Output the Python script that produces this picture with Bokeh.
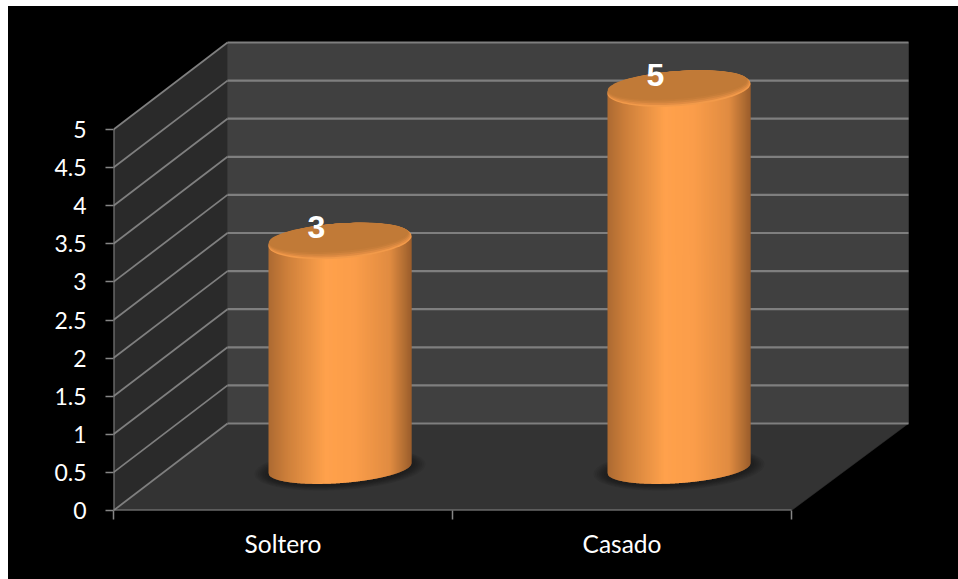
from bokeh.embed import file_html
from bokeh.resources import INLINE
from bokeh.plotting import figure
from bokeh.models import FixedTicker, Range1d
from bokeh.core.properties import value
import numpy as np

# data
categories = ["Soltero", "Casado"]
counts = [3, 5]
y_ticks = [0, 0.5, 1, 1.5, 2, 2.5, 3, 3.5, 4, 4.5, 5]
y_tick_labels = ["0", "0.5", "1", "1.5", "2", "2.5", "3", "3.5", "4", "4.5", "5"]
y_max = 5
n_cat = len(categories)

# 3D projection (plot units per unit of depth)
PX_X, PX_Y = 339.0, 76.2          # pixels per x / y unit
DX, DY = 114 / PX_X, 87 / PX_Y
SPREAD = 3 / 678                  # the back wall is a little wider than the front edge


def proj(x, v, d):
    return x + d * DX + d * x * SPREAD, v + d * DY


W, H = 950, 573
p = figure(width=W, height=H, output_backend="svg", toolbar_location=None,
           x_range=Range1d(0, 845 / PX_X), y_range=Range1d(0, 504 / PX_Y),
           min_border_left=105, min_border_right=0, min_border_top=0, min_border_bottom=69,
           background_fill_color="black", border_fill_color="black",
           outline_line_color=None)
p.styles = {"margin-left": "8px", "margin-top": "6px", "background-color": "black"}
p.grid.visible = False


def poly(points, color):
    xs, ys = zip(*points)
    p.patch(list(xs), list(ys), fill_color=color, line_color=color, line_width=0.5)


# walls and floor
poly([proj(0, 0, 0), proj(0, y_max, 0), proj(0, y_max, 1), proj(0, 0, 1)], "#2a2a2a")
poly([proj(0, 0, 1), proj(0, y_max, 1), proj(n_cat, y_max, 1), proj(n_cat, 0, 1)], "#404040")
poly([proj(0, 0, 0), proj(0, 0, 1), proj(n_cat, 0, 1), proj(n_cat, 0, 0)], "#333333")

# gridlines
GRID = "#7f7f7f"
for t in y_ticks:
    a, b, c = proj(0, t, 0), proj(0, t, 1), proj(n_cat, t, 1)
    p.line([a[0], b[0]], [a[1], b[1]], line_color=GRID, line_width=1.8)
    p.line([b[0], c[0]], [b[1], c[1]], line_color=GRID, line_width=2.2)

# cylinders
STOPS_U = [0.0, 0.12, 0.4, 0.6, 0.85, 1.0]
STOPS_C = [(172, 106, 50), (203, 126, 58), (255, 161, 76), (251, 157, 74), (224, 139, 65), (154, 94, 43)]
A = 71.5 / PX_X           # half width
TILT = 5.0 / PX_Y         # right side of the ellipses is higher
B_TOP, B_BOT = 17.5 / PX_Y, 15.0 / PX_Y
DEPTH_X, DEPTH_Y = 0.5, 0.47
T = np.linspace(0, 2 * np.pi, 90)


def ellipse(cx, cy, a, b, tilt):
    return cx + a * np.cos(T), cy + b * np.sin(T) + tilt * np.cos(T)


for i, (cat, v) in enumerate(zip(categories, counts)):
    base_x, base_y = proj(i + 0.5, 0, 0)
    cx = base_x + DEPTH_X * DX
    y1 = base_y + DEPTH_Y * DY + v
    y0 = base_y + DEPTH_Y * DY + 1.5 / PX_Y

    # soft shadow on the floor
    for k in range(8):
        sx, sy = ellipse(cx, y0 - 1.0 / PX_Y, A + (14 - 1.75 * k) / PX_X, B_BOT + (6 - 0.75 * k) / PX_Y, TILT)
        p.patch(sx, sy, fill_color="#111111", fill_alpha=0.08, line_color=None)

    # body as thin vertical strips following the front arcs
    n = 143
    edges = np.linspace(-1, 1, n + 1)
    xs, ys, colors = [], [], []
    for j in range(n):
        u = np.linspace(edges[j], min(edges[j + 1] + 0.012, 1), 4)
        f = (edges[j] + edges[j + 1] + 2) / 4
        col = [int(round(np.interp(f, STOPS_U, [c[q] for c in STOPS_C]))) for q in range(3)]
        root = np.sqrt(np.clip(1 - u ** 2, 0, 1))
        bottom = y0 - B_BOT * root + TILT * u
        top = y1 + TILT * u
        xs.append(list(cx + A * u) + list(cx + A * u[::-1]))
        ys.append(list(bottom) + list(top[::-1]))
        colors.append("#%02x%02x%02x" % tuple(col))
    p.patches(xs, ys, fill_color=colors, line_color=None)

    # cap: lit rim, then darker inner face
    ex, ey = ellipse(cx, y1, A, B_TOP, TILT)
    p.patch(ex, ey, fill_color="#f29a4a", line_color=None)
    for k, col in enumerate(["#e08c43", "#d1843e", "#c67d39", "#c17a37"]):
        ex, ey = ellipse(cx - (k + 1) * 0.4 / PX_X, y1 + (k + 1) * 0.9 / PX_Y,
                         A - (k + 1) * 0.5 / PX_X, B_TOP - (k + 1) * 0.9 / PX_Y, TILT)
        p.patch(ex, ey, fill_color=col, line_color=None)

# value labels
lab_x = [proj(i + 0.5, 0, 0)[0] + 33.5 / PX_X for i in range(n_cat)]
lab_y = [v + 14.0 / PX_Y + proj(0, 0, DEPTH_Y)[1] for v in counts]
p.text(lab_x, lab_y, text=[str(v) for v in counts], text_color="white",
       text_font=value("Liberation Sans"), text_font_style="bold", text_font_size="32px",
       text_align="center", text_baseline="middle")

# axes: the axis rules are drawn as lines so that they stop at the last tick
AXIS = "#868686"
p.line([0, 0], [0, y_max], line_color=AXIS, line_width=2)
p.line([0, n_cat], [0, 0], line_color=AXIS, line_width=2)

yax = p.yaxis[0]
yax.ticker = FixedTicker(ticks=y_ticks)
yax.major_label_overrides = {t: s for t, s in zip(y_ticks, y_tick_labels)}
yax.axis_line_color = None
yax.major_tick_line_color = AXIS
yax.major_tick_line_width = 1.5
yax.major_tick_in = 0
yax.major_tick_out = 8
yax.minor_tick_line_color = None
yax.major_label_text_color = "white"
yax.major_label_text_font = "Lato"
yax.major_label_text_font_size = "23px"
yax.major_label_standoff = 19

xax = p.xaxis[0]
centers = [i + 0.5 for i in range(n_cat)]
xax.ticker = FixedTicker(ticks=centers, minor_ticks=list(range(n_cat + 1)))
xax.major_label_overrides = {c: s for c, s in zip(centers, categories)}
xax.axis_line_color = None
xax.major_tick_line_color = None
xax.minor_tick_line_color = AXIS
xax.minor_tick_line_width = 1.5
xax.minor_tick_in = 0
xax.minor_tick_out = 9
xax.major_label_text_color = "white"
xax.major_label_text_font = "Lato"
xax.major_label_text_font_size = "24.5px"
xax.major_label_standoff = 9

open("out.html", "w").write(file_html(p, INLINE))
